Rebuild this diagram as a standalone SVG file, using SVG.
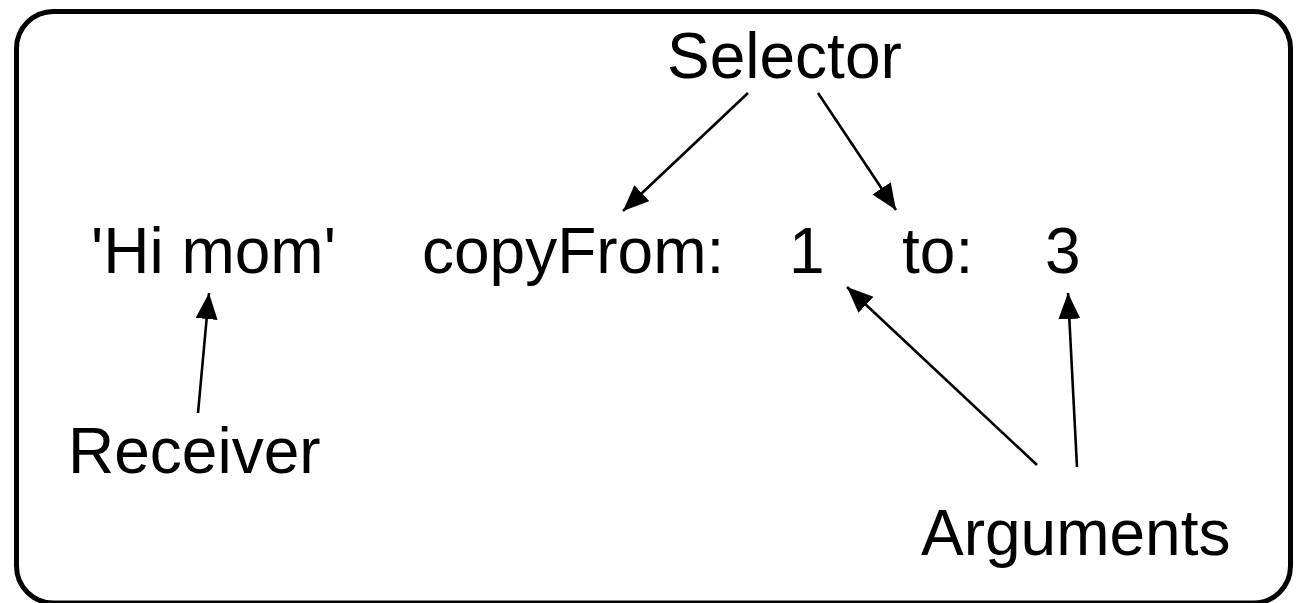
<svg xmlns="http://www.w3.org/2000/svg" width="1300" height="603" viewBox="0 0 1300 603">
<style>
.t{font-family:"Liberation Sans",Arial,Helvetica,sans-serif;font-size:64px;fill:#000}
.c{stroke:#000;stroke-width:2.6;fill:none;marker-end:url(#ah)}
</style>
<defs>
<marker id="ah" markerUnits="userSpaceOnUse" markerWidth="28" markerHeight="24" refX="26" refY="11" orient="auto" viewBox="0 0 28 24">
<path d="M0,0 L26,11 L0,22 Z" fill="#000"/>
</marker>
</defs>
<rect x="16.5" y="11.5" width="1274" height="591.5" rx="37" ry="37" fill="#fff" stroke="#000" stroke-width="5"/>
<g id="selector"><text class="t" x="667" y="78">Selector</text></g>
<g id="receiver-value"><text class="t" x="91" y="273">'Hi mom'</text></g>
<g id="copyFrom"><text class="t" x="422" y="273">copyFrom:</text></g>
<g id="arg1"><text class="t" x="789" y="273">1</text></g>
<g id="to"><text class="t" x="902" y="273">to:</text></g>
<g id="arg3"><text class="t" x="1045" y="273">3</text></g>
<g id="receiver"><text class="t" x="68" y="473">Receiver</text></g>
<g id="arguments"><text class="t" x="921" y="555">Arguments</text></g>
<g id="connectors">
<line class="c" x1="748" y1="93" x2="623" y2="211"/>
<line class="c" x1="818" y1="93" x2="896" y2="210"/>
<line class="c" x1="198" y1="413" x2="209" y2="293"/>
<line class="c" x1="1037" y1="465" x2="847" y2="287"/>
<line class="c" x1="1077" y1="467" x2="1068" y2="293"/>
</g>
</svg>
